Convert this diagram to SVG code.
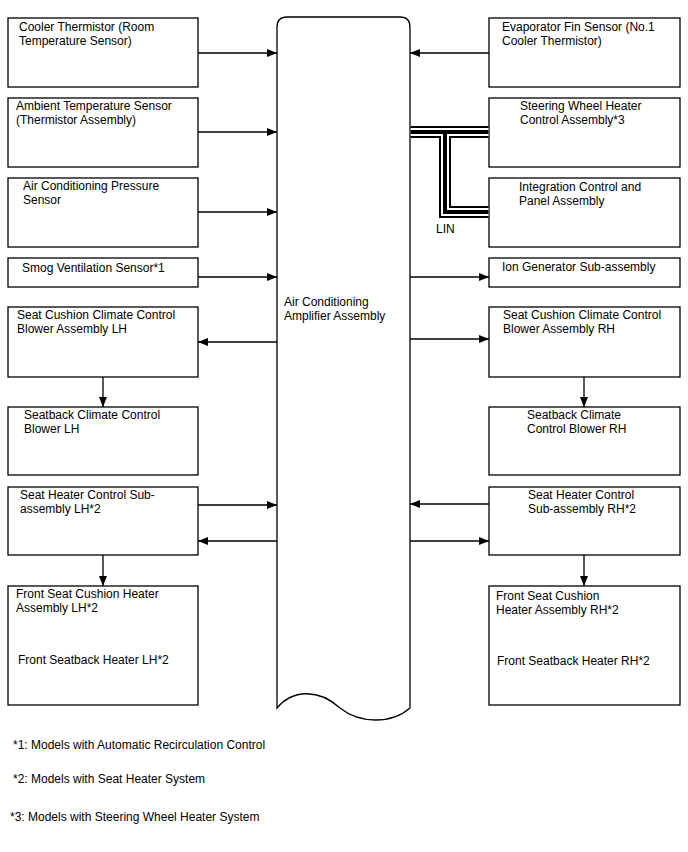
<svg xmlns="http://www.w3.org/2000/svg" width="688" height="852" viewBox="0 0 688 852">
<defs>
<marker id="ah" viewBox="0 0 10 8" refX="10" refY="4" markerWidth="10" markerHeight="8" markerUnits="userSpaceOnUse" orient="auto">
<path d="M0,0 L10,4 L0,8 Z" fill="#000"/>
</marker>
<style>
.box{fill:#fff;stroke:#000;stroke-width:1.3}
.t{font-family:"Liberation Sans",Arial,sans-serif;font-size:12px;fill:#000}
.c{fill:none;stroke:#000;stroke-width:1.3;marker-end:url(#ah)}
.lin{fill:none;stroke-linejoin:miter;stroke-linecap:butt}
</style>
</defs>
<rect width="688" height="852" fill="#fff"/>

<g id="amplifier">
<path class="box" d="M277,708 V27 Q277,17 287,17 H400 Q410,17 410,27 V708 C392,724 360,724 340,708 C318,688 292,690 277,708 Z"/>
<text class="t" x="284" y="306">Air Conditioning</text>
<text class="t" x="284" y="320">Amplifier Assembly</text>
</g>

<g id="cooler-thermistor">
<rect class="box" x="8" y="18" width="190" height="69"/>
<text class="t" x="19" y="31">Cooler Thermistor (Room</text>
<text class="t" x="19" y="45">Temperature Sensor)</text>
</g>
<g id="ambient-sensor">
<rect class="box" x="8" y="98" width="190" height="69"/>
<text class="t" x="16" y="110">Ambient Temperature Sensor</text>
<text class="t" x="16" y="124">(Thermistor Assembly)</text>
</g>
<g id="pressure-sensor">
<rect class="box" x="8" y="178" width="190" height="69"/>
<text class="t" x="23" y="190">Air Conditioning Pressure</text>
<text class="t" x="23" y="204">Sensor</text>
</g>
<g id="smog-sensor">
<rect class="box" x="8" y="258" width="190" height="29"/>
<text class="t" x="22" y="272">Smog Ventilation Sensor*1</text>
</g>
<g id="seat-cushion-blower-lh">
<rect class="box" x="8" y="307" width="190" height="70"/>
<text class="t" x="17" y="319">Seat Cushion Climate Control</text>
<text class="t" x="17" y="333">Blower Assembly LH</text>
</g>
<g id="seatback-blower-lh">
<rect class="box" x="8" y="407" width="190" height="68"/>
<text class="t" x="24" y="419">Seatback Climate Control</text>
<text class="t" x="24" y="433">Blower LH</text>
</g>
<g id="seat-heater-lh">
<rect class="box" x="8" y="487" width="190" height="68"/>
<text class="t" x="20" y="499">Seat Heater Control Sub-</text>
<text class="t" x="20" y="513">assembly LH*2</text>
</g>
<g id="front-seat-heater-lh">
<rect class="box" x="8" y="586" width="190" height="119"/>
<text class="t" x="16" y="598">Front Seat Cushion Heater</text>
<text class="t" x="16" y="612">Assembly LH*2</text>
<text class="t" x="18" y="664">Front Seatback Heater LH*2</text>
</g>

<g id="evaporator-sensor">
<rect class="box" x="489" y="18" width="191" height="69"/>
<text class="t" x="502" y="31">Evaporator Fin Sensor (No.1</text>
<text class="t" x="502" y="45">Cooler Thermistor)</text>
</g>
<g id="steering-heater">
<rect class="box" x="489" y="98" width="191" height="69"/>
<text class="t" x="520" y="110">Steering Wheel Heater</text>
<text class="t" x="520" y="124">Control Assembly*3</text>
</g>
<g id="integration-panel">
<rect class="box" x="489" y="178" width="191" height="69"/>
<text class="t" x="519" y="191">Integration Control and</text>
<text class="t" x="519" y="205">Panel Assembly</text>
</g>
<g id="ion-generator">
<rect class="box" x="489" y="258" width="191" height="29"/>
<text class="t" x="502" y="271">Ion Generator Sub-assembly</text>
</g>
<g id="seat-cushion-blower-rh">
<rect class="box" x="489" y="307" width="191" height="70"/>
<text class="t" x="503" y="319">Seat Cushion Climate Control</text>
<text class="t" x="503" y="333">Blower Assembly RH</text>
</g>
<g id="seatback-blower-rh">
<rect class="box" x="489" y="407" width="191" height="68"/>
<text class="t" x="527" y="419">Seatback Climate</text>
<text class="t" x="527" y="433">Control Blower RH</text>
</g>
<g id="seat-heater-rh">
<rect class="box" x="489" y="487" width="191" height="68"/>
<text class="t" x="528" y="499">Seat Heater Control</text>
<text class="t" x="528" y="513">Sub-assembly RH*2</text>
</g>
<g id="front-seat-heater-rh">
<rect class="box" x="489" y="586" width="191" height="119"/>
<text class="t" x="496" y="600">Front Seat Cushion</text>
<text class="t" x="496" y="614">Heater Assembly RH*2</text>
<text class="t" x="497" y="665">Front Seatback Heater RH*2</text>
</g>

<g id="connectors">
<line class="c" x1="198" y1="53" x2="277" y2="53"/>
<line class="c" x1="198" y1="132" x2="277" y2="132"/>
<line class="c" x1="198" y1="212" x2="277" y2="212"/>
<line class="c" x1="198" y1="277" x2="277" y2="277"/>
<line class="c" x1="277" y1="342" x2="198" y2="342"/>
<line class="c" x1="103" y1="377" x2="103" y2="407"/>
<line class="c" x1="198" y1="505" x2="277" y2="505"/>
<line class="c" x1="277" y1="541" x2="198" y2="541"/>
<line class="c" x1="103" y1="555" x2="103" y2="586"/>

<line class="c" x1="489" y1="53" x2="410" y2="53"/>
<line class="c" x1="410" y1="277" x2="489" y2="277"/>
<line class="c" x1="410" y1="339" x2="489" y2="339"/>
<line class="c" x1="584" y1="377" x2="584" y2="407"/>
<line class="c" x1="489" y1="504" x2="410" y2="504"/>
<line class="c" x1="410" y1="541" x2="489" y2="541"/>
<line class="c" x1="584" y1="555" x2="584" y2="586"/>

<g id="lin-bus">
<path class="lin" stroke="#000" stroke-width="12" d="M410.7,132 H488.5 M445,132 V212 H488.5"/>
<path class="lin" stroke="#fff" stroke-width="8" d="M410.7,132 H488.5 M445,132 V212 H488.5"/>
<path class="lin" stroke="#000" stroke-width="4" d="M410.7,132 H488.5 M445,132 V212 H488.5"/>
<text class="t" x="436" y="233">LIN</text>
</g>
</g>

<g id="footnotes">
<text class="t" x="13" y="749">*1: Models with Automatic Recirculation Control</text>
<text class="t" x="13" y="783">*2: Models with Seat Heater System</text>
<text class="t" x="10" y="821">*3: Models with Steering Wheel Heater System</text>
</g>
</svg>
